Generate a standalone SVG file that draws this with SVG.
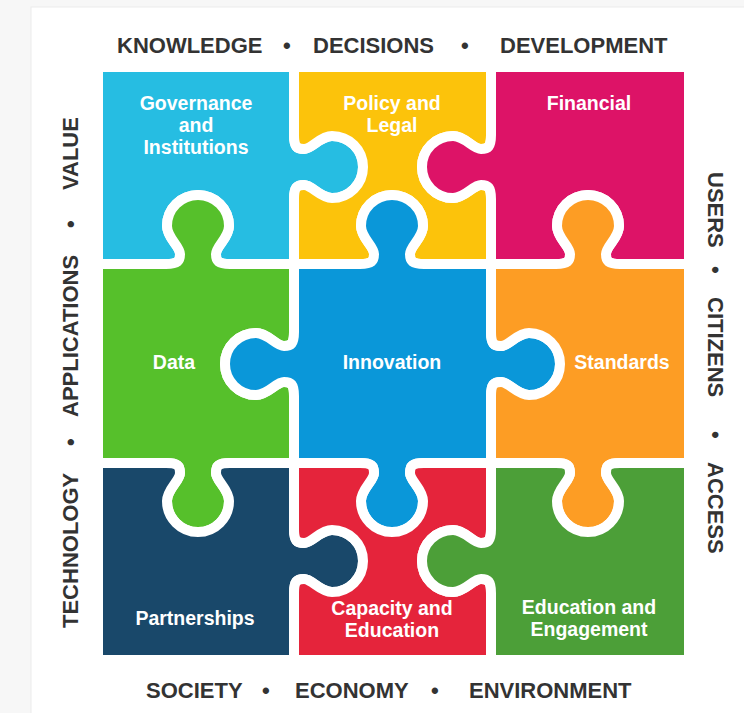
<svg xmlns="http://www.w3.org/2000/svg" width="744" height="713" viewBox="0 0 744 713">
<style>
  .piece path { stroke: #ffffff; stroke-width: 10; stroke-linejoin: round; }
  .lbl { font-family: "Liberation Sans", Arial, sans-serif; font-weight: bold; font-size: 19.5px; fill: #ffffff; text-anchor: middle; }
  .side { font-family: "Liberation Sans", Arial, sans-serif; font-weight: bold; font-size: 22px; fill: #333333; }
</style>
<rect x="0" y="0" width="744" height="713" fill="#f7f7f7"/>
<rect x="31" y="7" width="730" height="720" fill="#ffffff" stroke="#ececec" stroke-width="1"/>

<g id="governance" class="piece">
  <path fill="#26BDE2" d="M 98 67 L 294 67 L 294 135 C 294 147 297 149 304 149 C 312 149 320 136 332 136 A 31 31 0 0 1 332 198 C 320 198 312 185 304 185 C 297 185 294 187 294 199 L 294 264 L 230 264 C 218 264 216 261 216 254 C 216 246 229 238 229 226 A 31 31 0 0 0 167 226 C 167 238 180 246 180 254 C 180 261 178 264 166 264 L 98 264 Z"/>
  <text class="lbl" x="196" y="110">Governance</text>
  <text class="lbl" x="196" y="132">and</text>
  <text class="lbl" x="196" y="154">Institutions</text>
</g>

<g id="policy" class="piece">
  <path fill="#FCC30B" d="M 294 67 L 491 67 L 491 135 C 491 147 488 149 481 149 C 473 149 465 136 453 136 A 31 31 0 0 0 453 198 C 465 198 473 185 481 185 C 488 185 491 187 491 199 L 491 264 L 424 264 C 412 264 410 261 410 254 C 410 246 423 238 423 226 A 31 31 0 0 0 361 226 C 361 238 374 246 374 254 C 374 261 372 264 360 264 L 294 264 L 294 199 C 294 187 297 185 304 185 C 312 185 320 198 332 198 A 31 31 0 0 0 332 136 C 320 136 312 149 304 149 C 297 149 294 147 294 135 L 294 67 Z"/>
  <text class="lbl" x="392" y="110">Policy and</text>
  <text class="lbl" x="392" y="132">Legal</text>
</g>

<g id="financial" class="piece">
  <path fill="#DD1367" d="M 491 67 L 689 67 L 689 264 L 620 264 C 608 264 606 261 606 254 C 606 246 619 238 619 226 A 31 31 0 0 0 557 226 C 557 238 570 246 570 254 C 570 261 568 264 556 264 L 491 264 L 491 199 C 491 187 488 185 481 185 C 473 185 465 198 453 198 A 31 31 0 0 1 453 136 C 465 136 473 149 481 149 C 488 149 491 147 491 135 L 491 67 Z"/>
  <text class="lbl" x="589" y="110">Financial</text>
</g>

<g id="data" class="piece">
  <path fill="#56C02B" d="M 98 264 L 166 264 C 178 264 180 261 180 254 C 180 246 167 238 167 226 A 31 31 0 0 1 229 226 C 229 238 216 246 216 254 C 216 261 218 264 230 264 L 294 264 L 294 332 C 294 344 291 346 284 346 C 276 346 268 333 256 333 A 31 31 0 0 0 256 395 C 268 395 276 382 284 382 C 291 382 294 384 294 396 L 294 463 L 230 463 C 218 463 216 466 216 473 C 216 481 229 489 229 501 A 31 31 0 0 1 167 501 C 167 489 180 481 180 473 C 180 466 178 463 166 463 L 98 463 Z"/>
  <text class="lbl" x="174" y="369">Data</text>
</g>

<g id="innovation" class="piece">
  <path fill="#0A97D9" d="M 294 264 L 360 264 C 372 264 374 261 374 254 C 374 246 361 238 361 226 A 31 31 0 0 1 423 226 C 423 238 410 246 410 254 C 410 261 412 264 424 264 L 491 264 L 491 332 C 491 344 494 346 501 346 C 509 346 517 333 529 333 A 31 31 0 0 1 529 395 C 517 395 509 382 501 382 C 494 382 491 384 491 396 L 491 463 L 424 463 C 412 463 410 466 410 473 C 410 481 423 489 423 501 A 31 31 0 0 1 361 501 C 361 489 374 481 374 473 C 374 466 372 463 360 463 L 294 463 L 294 396 C 294 384 291 382 284 382 C 276 382 268 395 256 395 A 31 31 0 0 1 256 333 C 268 333 276 346 284 346 C 291 346 294 344 294 332 L 294 264 Z"/>
  <text class="lbl" x="392" y="369">Innovation</text>
</g>

<g id="standards" class="piece">
  <path fill="#FD9D24" d="M 491 264 L 556 264 C 568 264 570 261 570 254 C 570 246 557 238 557 226 A 31 31 0 0 1 619 226 C 619 238 606 246 606 254 C 606 261 608 264 620 264 L 689 264 L 689 463 L 620 463 C 608 463 606 466 606 473 C 606 481 619 489 619 501 A 31 31 0 0 1 557 501 C 557 489 570 481 570 473 C 570 466 568 463 556 463 L 491 463 L 491 396 C 491 384 494 382 501 382 C 509 382 517 395 529 395 A 31 31 0 0 0 529 333 C 517 333 509 346 501 346 C 494 346 491 344 491 332 L 491 264 Z"/>
  <text class="lbl" x="622" y="369">Standards</text>
</g>

<g id="partnerships" class="piece">
  <path fill="#19486A" d="M 98 463 L 166 463 C 178 463 180 466 180 473 C 180 481 167 489 167 501 A 31 31 0 0 0 229 501 C 229 489 216 481 216 473 C 216 466 218 463 230 463 L 294 463 L 294 529 C 294 541 297 543 304 543 C 312 543 320 530 332 530 A 31 31 0 0 1 332 592 C 320 592 312 579 304 579 C 297 579 294 581 294 593 L 294 660 L 98 660 Z"/>
  <text class="lbl" x="195" y="625">Partnerships</text>
</g>

<g id="capacity" class="piece">
  <path fill="#E5243B" d="M 294 463 L 360 463 C 372 463 374 466 374 473 C 374 481 361 489 361 501 A 31 31 0 0 0 423 501 C 423 489 410 481 410 473 C 410 466 412 463 424 463 L 491 463 L 491 529 C 491 541 488 543 481 543 C 473 543 465 530 453 530 A 31 31 0 0 0 453 592 C 465 592 473 579 481 579 C 488 579 491 581 491 593 L 491 660 L 294 660 L 294 593 C 294 581 297 579 304 579 C 312 579 320 592 332 592 A 31 31 0 0 0 332 530 C 320 530 312 543 304 543 C 297 543 294 541 294 529 L 294 463 Z"/>
  <text class="lbl" x="392" y="615">Capacity and</text>
  <text class="lbl" x="392" y="637">Education</text>
</g>

<g id="engagement" class="piece">
  <path fill="#4C9F38" d="M 491 463 L 556 463 C 568 463 570 466 570 473 C 570 481 557 489 557 501 A 31 31 0 0 0 619 501 C 619 489 606 481 606 473 C 606 466 608 463 620 463 L 689 463 L 689 660 L 491 660 L 491 593 C 491 581 488 579 481 579 C 473 579 465 592 453 592 A 31 31 0 0 1 453 530 C 465 530 473 543 481 543 C 488 543 491 541 491 529 L 491 463 Z"/>
  <text class="lbl" x="589" y="614">Education and</text>
  <text class="lbl" x="589" y="636">Engagement</text>
</g>

<g id="connectors"></g>

<g id="frame-labels">
  <text class="side" y="53"><tspan x="117">KNOWLEDGE</tspan><tspan x="283">•</tspan><tspan x="313">DECISIONS</tspan><tspan x="461">•</tspan><tspan x="500">DEVELOPMENT</tspan></text>
  <text class="side" y="698"><tspan x="146">SOCIETY</tspan><tspan x="262">•</tspan><tspan x="295">ECONOMY</tspan><tspan x="431">•</tspan><tspan x="469">ENVIRONMENT</tspan></text>
  <text class="side" transform="translate(78 0) rotate(-90)" y="0"><tspan x="-628">TECHNOLOGY</tspan><tspan x="-446">•</tspan><tspan x="-417">APPLICATIONS</tspan><tspan x="-228">•</tspan><tspan x="-190">VALUE</tspan></text>
  <text class="side" transform="translate(708 0) rotate(90)" y="0"><tspan x="172">USERS</tspan><tspan x="266">•</tspan><tspan x="297">CITIZENS</tspan><tspan x="431">•</tspan><tspan x="462">ACCESS</tspan></text>
</g>
</svg>
